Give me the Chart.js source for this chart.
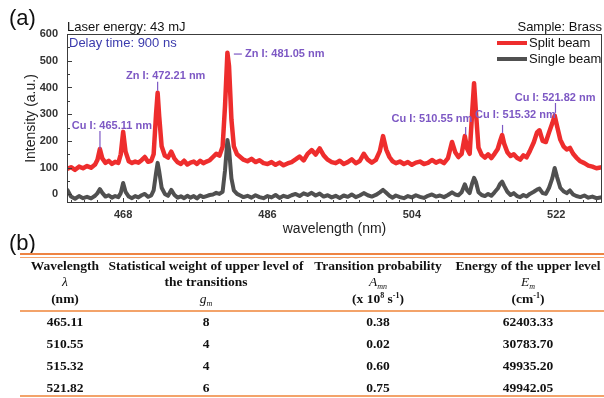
<!DOCTYPE html>
<html lang="en">
<head>
<meta charset="UTF-8">
<title>Brass LIBS spectrum</title>
<script src="https://cdn.jsdelivr.net/npm/chart.js"></script>
<style>
  body { margin:0; background:#fff; width:604px; height:398px; overflow:hidden; position:relative; font-family:"Liberation Sans", Arial, sans-serif; }
  #wrap { position:absolute; left:0; top:0; width:604px; height:240px; }
  .panel { position:absolute; left:9px; font-size:22px; line-height:22px; color:#111; }
  .rule { position:absolute; left:20px; width:584px; }
  .row { position:absolute; left:0; width:604px; height:16px; font-family:"Liberation Serif","Times New Roman",serif; font-weight:bold; font-size:13.5px; color:#111; }
  .row span { position:absolute; top:0; line-height:16px; white-space:nowrap; transform:translateX(-50%); }
  .row i { font-weight:normal; }
  sub, sup { font-size:8px; line-height:0; }
  sub { vertical-align:-3px; }
  sup { vertical-align:5px; }
</style>
</head>
<body>
<div id="wrap"><canvas id="spec" width="604" height="240"></canvas></div>
<div class="panel" style="top:7px">(a)</div>
<div class="panel" style="top:232px">(b)</div>
<div class="rule" style="top:253px;height:2px;background:#ee8443"></div>
<div class="rule" style="top:257px;height:1px;background:#f4a46e"></div>
<div class="rule" style="top:310px;height:2px;background:#f3a36a"></div>
<div class="rule" style="top:395px;height:2px;background:#f3a36a"></div>
<div id="table"></div>

<script>
// wavelength grid (nm), shared by both spectra
const wavelength = [
  461.0, 461.5, 462.0, 462.5, 463.0, 463.5, 464.0, 464.5, 464.8, 465.1,
  465.4, 465.8, 466.2, 466.6, 467.0, 467.4, 467.7, 468.0, 468.3, 468.7,
  469.1, 469.5, 469.9, 470.3, 470.7, 471.1, 471.5, 471.8, 472.1, 472.3,
  472.5, 472.8, 473.2, 473.6, 474.0, 474.4, 474.8, 475.2, 475.6, 476.0,
  476.4, 476.8, 477.2, 477.6, 478.0, 478.4, 478.8, 479.2, 479.6, 480.0,
  480.4, 480.7, 481.0, 481.2, 481.5, 481.8, 482.2, 482.6, 483.0, 483.5,
  484.0, 484.5, 485.0, 485.5, 486.0, 486.5, 487.0, 487.5, 488.0, 488.5,
  489.0, 489.5, 490.0, 490.5, 491.0, 491.5, 492.0, 492.5, 493.0, 493.5,
  494.0, 494.5, 495.0, 495.5, 496.0, 496.5, 497.0, 497.5, 498.0, 498.5,
  499.0, 499.5, 500.0, 500.4, 500.8, 501.2, 501.6, 502.0, 502.5, 503.0,
  503.5, 504.0, 504.5, 505.0, 505.5, 506.0, 506.5, 507.0, 507.5, 508.0,
  508.5, 509.0, 509.4, 509.8, 510.2, 510.6, 510.9, 511.2, 511.5, 511.75,
  512.0, 512.3, 512.7, 513.1, 513.5, 513.9, 514.3, 514.7, 515.0, 515.25,
  515.5, 515.9, 516.3, 516.7, 517.1, 517.5, 517.9, 518.3, 518.7, 519.2,
  519.6, 519.9, 520.3, 520.7, 521.1, 521.5, 521.8, 522.1, 522.5, 522.9,
  523.3, 523.7, 524.1, 524.5, 525.0, 525.5, 526.0, 526.5, 527.0, 527.7
];

const splitBeam = [
  95, 102, 92, 104, 98, 106, 100, 112, 130, 170,
  135, 118, 126, 114, 122, 118, 150, 234, 160, 124,
  118, 123, 119, 128, 140, 122, 126, 150, 300, 380,
  290, 180, 145, 138, 160, 134, 120, 114, 126, 112,
  119, 123, 114, 126, 117, 123, 128, 140, 152, 145,
  178, 330, 530, 480, 280, 180, 150, 140, 130, 124,
  133, 121, 128, 117, 114, 121, 111, 119, 109, 116,
  121, 131, 142, 127, 152, 166, 149, 172, 146, 130,
  121, 117, 126, 114, 121, 131, 117, 125, 152, 130,
  119, 129, 162, 218, 168, 140, 124, 117, 123, 114,
  121, 111, 119, 123, 114, 118, 129, 119, 126, 117,
  136, 196, 158, 140, 152, 218, 170, 152, 300, 416,
  300, 175, 148, 138, 150, 136, 152, 170, 200, 222,
  190, 158, 144, 150, 137, 130, 146, 139, 162, 195,
  232, 240, 200, 196, 232, 266, 295, 255, 205, 180,
  168, 174, 152, 138, 124, 117, 108, 104, 98, 102
];

const singleBeam = [
  20, -8, -16, -6, -14, -9, -15, -5, 5, 20,
  6, -8, -3, -12, -6, -10, 5, 43, 10, -8,
  -14, -6, -11, -3, 2, -9, -4, 15, 80, 118,
  85, 25, 2, -5, 17, -2, -12, -7, -14, -5,
  -12, -6, -15, -4, -10, -6, -2, 0, 6, 2,
  10, 90, 204, 170, 60, 15, 2, -4, -10, -5,
  -12, -3, -10, -14, -6, -11, -2, -13, -5, -10,
  -3, 2, -6, 4, -2, 6, -4, 3, -8, -3,
  -11, -5, -13, -4, -9, 0, -10, -4, 5, -3,
  -8, -2, 8, 17, 6, -5, -12, -4, -10, -14,
  -6, -11, -3, -9, -13, -5, 0, -8, -4, -10,
  -2, 8, 0, -3, 8, 38, 15, 5, 40, 62,
  45, 8, -2, -6, 2, -5, 8, 22, 40, 48,
  32, 10, -2, 5, -6, -10, -2, -8, 2, 10,
  18, 22, 5, 2, 25, 60, 99, 65, 25, 12,
  5, 15, 0, -6, -10, -4, -12, -8, -14, -10
];

const xTicks = [468, 486, 504, 522];
const yTicks = [0, 100, 200, 300, 400, 500, 600];

// line identifications: marker segment (x1,y1)-(x2,y2) and text anchor, in data units
const peakLabels = [
  { text: 'Cu I: 465.11 nm', x1: 465.11, y1: 170, x2: 465.11, y2: 237, tx: 466.6, ty: 256, align: 'center' },
  { text: 'Zn I: 472.21 nm', x1: 472.3, y1: 388, x2: 472.3, y2: 421, tx: 473.3, ty: 443, align: 'center' },
  { text: 'Zn I: 481.05 nm', x1: 481.8, y1: 525, x2: 482.8, y2: 525, tx: 483.2, ty: 525, align: 'left' },
  { text: 'Cu I: 510.55 nm', x1: 510.7, y1: 222, x2: 510.7, y2: 252, tx: 506.5, ty: 282, align: 'center' },
  { text: 'Cu I: 515.32 nm', x1: 515.3, y1: 230, x2: 515.3, y2: 260, tx: 516.9, ty: 297, align: 'center' },
  { text: 'Cu I: 521.82 nm', x1: 521.9, y1: 305, x2: 521.9, y2: 342, tx: 521.85, ty: 361, align: 'center' }
];

// table (b)
const lineNm = ['465.11', '510.55', '515.32', '521.82'];
const gm = ['8', '4', '4', '6'];
const amn = ['0.38', '0.02', '0.60', '0.75'];
const em = ['62403.33', '30783.70', '49935.20', '49942.05'];

const SANS = '"Liberation Sans", Arial, sans-serif';

const decor = {
  id: 'decor',
  afterDatasetsDraw(chart) {
    const { ctx, chartArea: a, scales: { x, y } } = chart;
    ctx.save();

    // frame
    ctx.strokeStyle = '#3c3c3c';
    ctx.lineWidth = 1;
    ctx.strokeRect(a.left + 0.5, a.top + 0.5, a.right - a.left - 1, a.bottom - a.top - 1);

    // inward ticks
    ctx.beginPath();
    for (let k = -5; k <= 40; k++) {
      const v = 468 + k * 18 / 11;
      if (v <= x.min || v >= x.max) continue;
      const px = Math.round(x.getPixelForValue(v)) + 0.5;
      ctx.moveTo(px, a.bottom);
      ctx.lineTo(px, a.bottom - (k % 11 === 0 ? 5 : 3));
    }
    for (let v = 0; v <= 600; v += 50) {
      const py = Math.round(y.getPixelForValue(v)) + 0.5;
      ctx.moveTo(a.left, py);
      ctx.lineTo(a.left + (v % 100 === 0 ? 5 : 3), py);
    }
    ctx.stroke();

    // axis titles
    ctx.fillStyle = '#222';
    ctx.font = '14px ' + SANS;
    ctx.textAlign = 'center';
    ctx.textBaseline = 'middle';
    ctx.fillText('wavelength (nm)', (a.left + a.right) / 2, a.bottom + 26);
    ctx.save();
    ctx.translate(31, (a.top + a.bottom) / 2);
    ctx.rotate(-Math.PI / 2);
    ctx.fillText('Intensity (a.u.)', 0, 0);
    ctx.restore();

    // header notes
    ctx.font = '13px ' + SANS;
    ctx.fillStyle = '#111';
    ctx.textAlign = 'left';
    ctx.fillText('Laser energy: 43 mJ', a.left, a.top - 7);
    ctx.textAlign = 'right';
    ctx.fillText('Sample: Brass', a.right, a.top - 7);
    ctx.textAlign = 'left';
    ctx.fillStyle = '#3b3bad';
    ctx.fillText('Delay time: 900 ns', a.left + 2, a.top + 9);

    // legend
    chart.data.datasets.forEach((ds, i) => {
      const ly = a.top + 9 + i * 16;
      ctx.strokeStyle = ds.borderColor;
      ctx.lineWidth = 4;
      ctx.beginPath();
      ctx.moveTo(a.right - 105, ly);
      ctx.lineTo(a.right - 75, ly);
      ctx.stroke();
      ctx.fillStyle = '#111';
      ctx.fillText(ds.label, a.right - 73, ly);
    });

    // peak identifications
    ctx.strokeStyle = '#7d58c4';
    ctx.fillStyle = '#7d58c4';
    ctx.lineWidth = 1.2;
    ctx.font = 'bold 11px ' + SANS;
    peakLabels.forEach(p => {
      ctx.beginPath();
      ctx.moveTo(x.getPixelForValue(p.x1), y.getPixelForValue(p.y1));
      ctx.lineTo(x.getPixelForValue(p.x2), y.getPixelForValue(p.y2));
      ctx.stroke();
      ctx.textAlign = p.align;
      ctx.fillText(p.text, x.getPixelForValue(p.tx), y.getPixelForValue(p.ty));
    });
    ctx.restore();
  }
};

new Chart(document.getElementById('spec'), {
  type: 'line',
  data: {
    datasets: [
      {
        label: 'Split beam',
        data: wavelength.map((w, i) => ({ x: w, y: splitBeam[i] })),
        borderColor: '#ee2d2d',
        borderWidth: 4.5,
        borderJoinStyle: 'round',
        pointRadius: 0,
        tension: 0
      },
      {
        label: 'Single beam',
        data: wavelength.map((w, i) => ({ x: w, y: singleBeam[i] })),
        borderColor: '#505050',
        borderWidth: 4,
        borderJoinStyle: 'round',
        pointRadius: 0,
        tension: 0
      }
    ]
  },
  options: {
    responsive: false,
    animation: false,
    layout: { padding: { left: 0, top: 34, right: 2, bottom: 0 } },
    plugins: { legend: { display: false }, tooltip: { enabled: false } },
    scales: {
      x: {
        type: 'linear',
        min: 461,
        max: 527.7,
        grid: { display: false, drawTicks: false },
        border: { display: false },
        afterBuildTicks: s => { s.ticks = xTicks.map(v => ({ value: v })); },
        afterFit: s => { s.height = 37; },
        ticks: {
          padding: 5, color: '#333', autoSkip: false, maxRotation: 0,
          font: { size: 11, weight: 'bold', family: SANS },
          callback: v => String(v)
        }
      },
      y: {
        min: -32,
        max: 600,
        grid: { display: false, drawTicks: false },
        border: { display: false },
        afterBuildTicks: s => { s.ticks = yTicks.map(v => ({ value: v })); },
        afterFit: s => { s.width = 67; },
        ticks: {
          padding: 9, color: '#333',
          font: { size: 11, weight: 'bold', family: SANS },
          callback: v => String(v)
        }
      }
    }
  },
  plugins: [decor]
});

// table (b)
const colX = [65, 206, 378, 528];
const rows = [
  { y: 266, cells: ['Wavelength', 'Statistical weight of upper level of', 'Transition probability', 'Energy of the upper level'] },
  { y: 282, cells: ['<i>&lambda;</i>', 'the transitions', '<i>A<sub>mn</sub></i>', '<i>E<sub>m</sub></i>'] },
  { y: 299, cells: ['(nm)', '<i>g<sub>m</sub></i>', '(x 10<sup>8</sup> s<sup>-1</sup>)', '(cm<sup>-1</sup>)'] }
];
const rowY = [322, 344, 366, 388];
lineNm.forEach((v, i) => rows.push({ y: rowY[i], cells: [v, gm[i], amn[i], em[i]] }));

const table = document.getElementById('table');
rows.forEach(r => {
  const div = document.createElement('div');
  div.className = 'row';
  div.style.top = (r.y - 8) + 'px';
  div.innerHTML = r.cells.map((c, i) => `<span style="left:${colX[i]}px">${c}</span>`).join('');
  table.appendChild(div);
});
</script>
</body>
</html>
